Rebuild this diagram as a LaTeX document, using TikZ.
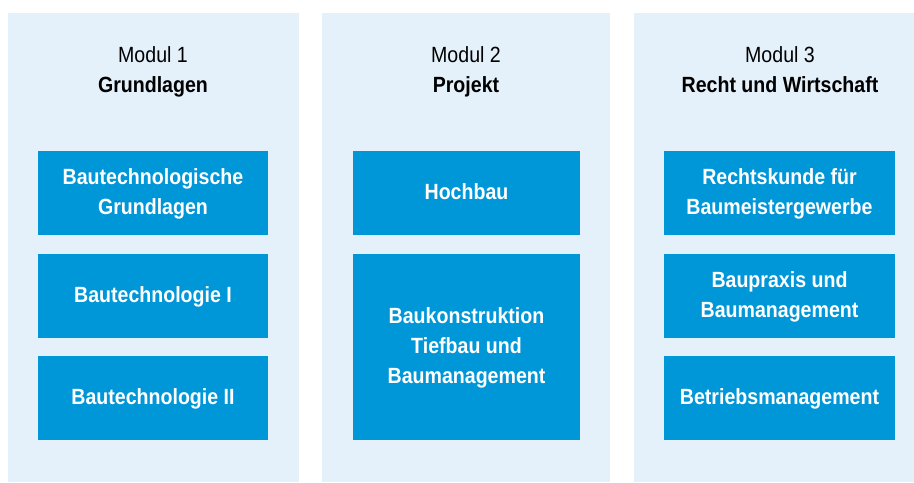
\documentclass[tikz,border=0pt]{standalone}
\usepackage{fontspec}
\setmainfont{Liberation Sans}[FakeStretch=0.89]
\definecolor{colbg}{HTML}{E4F1FB}
\definecolor{boxblue}{HTML}{0097D9}
\begin{document}
\begin{tikzpicture}[x=0.75pt,y=-0.75pt,
  colstyle/.style={fill=colbg,draw=none},
  modbox/.style={fill=boxblue,draw=none,text=white,align=center,inner sep=0pt,
    font=\fontsize{16.5}{22.5}\selectfont\bfseries},
  modtitle/.style={align=center,text=black,inner sep=0pt,
    font=\fontsize{16.5}{22.5}\selectfont}]
\useasboundingbox (0,0) rectangle (914,482);
\fill[white] (0,0) rectangle (914,482);
% columns
\path[colstyle] (8,13) rectangle (299,482);
\path[colstyle] (322,13) rectangle (610,482);
\path[colstyle] (634,13) rectangle (914,482);
% titles
\node[modtitle] (t1) at (153,71) {Modul 1\strut\\\textbf{Grundlagen}\strut};
\node[modtitle] (t2) at (466,71) {Modul 2\strut\\\textbf{Projekt}\strut};
\node[modtitle] (t3) at (780,71) {Modul 3\strut\\\textbf{Recht und Wirtschaft}\strut};
% column 1
\node[modbox,minimum width=230*0.75pt,minimum height=84*0.75pt] (a1) at (153,193) {Bautechnologische\strut\\Grundlagen\strut};
\node[modbox,minimum width=230*0.75pt,minimum height=84*0.75pt] (a2) at (153,296) {Bautechnologie I\strut};
\node[modbox,minimum width=230*0.75pt,minimum height=84*0.75pt] (a3) at (153,398) {Bautechnologie II\strut};
% column 2
\node[modbox,minimum width=227*0.75pt,minimum height=84*0.75pt] (b1) at (466.5,193) {Hochbau\strut};
\node[modbox,minimum width=227*0.75pt,minimum height=186*0.75pt] (b2) at (466.5,347) {Baukonstruktion\strut\\Tiefbau und\strut\\Baumanagement\strut};
% column 3
\node[modbox,minimum width=231*0.75pt,minimum height=84*0.75pt] (c1) at (779.5,193) {Rechtskunde für\strut\\Baumeistergewerbe\strut};
\node[modbox,minimum width=231*0.75pt,minimum height=84*0.75pt] (c2) at (779.5,296) {Baupraxis und\strut\\Baumanagement\strut};
\node[modbox,minimum width=231*0.75pt,minimum height=84*0.75pt] (c3) at (779.5,398) {Betriebsmanagement\strut};
\end{tikzpicture}
\end{document}
